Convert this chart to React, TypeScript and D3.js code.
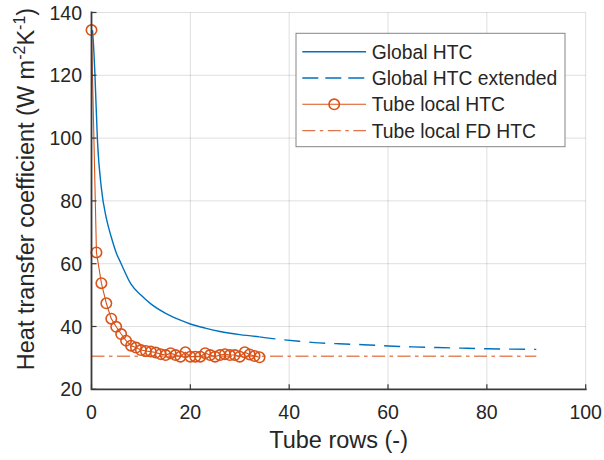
import React from "react";
import * as d3 from "d3";

// ---- data ----
const localRows = [0, 1, 2, 3, 4, 5, 6, 7, 8, 9, 10, 11, 12, 13, 14, 15, 16, 17, 18, 19, 20, 21, 22, 23, 24, 25, 26, 27, 28, 29, 30, 31, 32, 33, 34];
const localHTC = [134.4, 63.6, 53.8, 47.4, 42.5, 39.9, 37.6, 35.5, 33.9, 33.3, 32.5, 32.2, 32.0, 31.7, 31.2, 30.9, 31.5, 30.9, 30.4, 31.8, 30.4, 30.4, 30.4, 31.5, 30.9, 30.4, 30.9, 31.2, 30.9, 30.9, 30.4, 31.8, 31.1, 30.6, 30.2];

const globalRows = [0.2, 0.5, 0.7, 1.2, 2, 3, 4, 5, 6, 8, 10, 12, 15, 18, 20, 23, 26, 30, 34];
const globalHTC = [134.4, 127, 120, 99.4, 84, 74.5, 68.5, 63.5, 60, 53.5, 50, 47.2, 44.2, 42.0, 40.8, 39.5, 38.4, 37.4, 36.7];

const extRows = [34, 38, 42, 46, 50, 55, 60, 65, 70, 75, 80, 85, 90];
const extHTC = [36.7, 35.9, 35.3, 34.8, 34.5, 34.2, 33.8, 33.5, 33.3, 33.1, 32.9, 32.8, 32.7];

const fdRows = [0, 90];
const fdHTC = [30.5, 30.5];

const xTicks = [0, 20, 40, 60, 80, 100];
const yTicks = [20, 40, 60, 80, 100, 120, 140];
const legendLabels = ["Global HTC", "Global HTC extended", "Tube local HTC", "Tube local FD HTC"];

const BLUE = "#0072BD";
const ORANGE = "#D95319";
const AXIS = "#3a3a3a";
const TEXT = "#262626";
const FONT = "'Liberation Sans', Arial, sans-serif";

export default function App() {
  const W = 604, H = 460;
  const x = d3.scaleLinear().domain([0, 100]).range([91.5, 585.7]);
  const y = d3.scaleLinear().domain([20, 140]).range([389.3, 12.5]);

  const line = d3.line<[number, number]>().x(d => x(d[0])).y(d => y(d[1]));
  const smooth = d3.line<[number, number]>().x(d => x(d[0])).y(d => y(d[1])).curve(d3.curveMonotoneX);

  const zip = (a: number[], b: number[]) => a.map((v, i) => [v, b[i]] as [number, number]);

  const [x0, x1] = x.range();
  const [y0, y1] = y.range();

  const lgX = 296, lgY = 33.3, lgW = 269, lgH = 113.4;
  const rowY = (i: number) => 51.7 + i * 26.3;

  return (
    <div style={{ position: "fixed", left: 0, top: 0 }}>
      <svg width={W} height={H} style={{ display: "block", background: "#fff" }} fontFamily={FONT}>
        {/* grid */}
        <g stroke="#262626" strokeOpacity={0.15} strokeWidth={1}>
          {xTicks.filter(t => t > 0).map(t => (
            <line key={"gx" + t} x1={x(t)} x2={x(t)} y1={y0} y2={y1} />
          ))}
          {yTicks.filter(t => t > 20).map(t => (
            <line key={"gy" + t} x1={x0} x2={x1} y1={y(t)} y2={y(t)} />
          ))}
        </g>

        {/* FD line */}
        <path d={line(zip(fdRows, fdHTC))!} fill="none" stroke={ORANGE} strokeOpacity={0.7} strokeWidth={1.5} strokeDasharray="13,4.5,3.5,4.5" />

        {/* global extended */}
        <path d={smooth(zip(extRows, extHTC))!} fill="none" stroke={BLUE} strokeWidth={1.4} strokeDasharray="16,9" />
        {/* global */}
        <path d={smooth(zip(globalRows, globalHTC))!} fill="none" stroke={BLUE} strokeWidth={1.4} />

        {/* local */}
        <path d={line(zip(localRows, localHTC))!} fill="none" stroke={ORANGE} strokeWidth={1.1} />
        <g fill="none" stroke={ORANGE} strokeWidth={1.6}>
          {localRows.map((r, i) => (
            <circle key={i} cx={x(r)} cy={y(localHTC[i])} r={5.2} />
          ))}
        </g>

        {/* axes */}
        <g stroke={AXIS} strokeWidth={1.8} fill="none">
          <path d={`M${x0},${y1 - 0.9}V${y0}H${x1 + 0.9}`} />
        </g>
        <g stroke={AXIS} strokeWidth={1.2}>
          {xTicks.map(t => (
            <line key={"tx" + t} x1={x(t)} x2={x(t)} y1={y0} y2={y0 - 5} />
          ))}
          {yTicks.map(t => (
            <line key={"ty" + t} x1={x0} x2={x0 + 5} y1={y(t)} y2={y(t)} />
          ))}
        </g>

        {/* tick labels */}
        <g fill={TEXT} fontSize={19.5}>
          {xTicks.map(t => (
            <text key={"lx" + t} x={x(t)} y={419} textAnchor="middle">{t}</text>
          ))}
          {yTicks.map(t => (
            <text key={"ly" + t} x={82} y={y(t)} dy="0.36em" textAnchor="end">{t}</text>
          ))}
        </g>

        {/* axis labels */}
        <text x={338.6} y={448} textAnchor="middle" fontSize={23.5} fill={TEXT}>Tube rows (-)</text>
        <text transform="translate(33.5,189) rotate(-90)" textAnchor="middle" fontSize={23.5} fill={TEXT}>
          Heat transfer coefficient (W m
          <tspan dy="-8.5" fontSize={16}>-2</tspan>
          <tspan dy="8.5">K</tspan>
          <tspan dy="-8.5" fontSize={16}>-1</tspan>
          <tspan dy="8.5">)</tspan>
        </text>

        {/* legend */}
        <rect x={lgX} y={lgY} width={lgW} height={lgH} fill="#fff" stroke="#858585" strokeWidth={1} />
        <g>
          <line x1={302.3} x2={366} y1={rowY(0)} y2={rowY(0)} stroke={BLUE} strokeWidth={1.4} />
          <line x1={302.3} x2={366} y1={rowY(1)} y2={rowY(1)} stroke={BLUE} strokeWidth={1.4} strokeDasharray="16,7" />
          <line x1={302.3} x2={366} y1={rowY(2)} y2={rowY(2)} stroke={ORANGE} strokeWidth={1.1} />
          <circle cx={334.2} cy={rowY(2)} r={5.2} fill="none" stroke={ORANGE} strokeWidth={1.6} />
          <line x1={302.3} x2={366} y1={rowY(3)} y2={rowY(3)} stroke={ORANGE} strokeOpacity={0.8} strokeWidth={1.3} strokeDasharray="13,4.5,3.5,4.5" />
          {legendLabels.map((l, i) => (
            <text key={l} x={371.7} y={rowY(i)} dy="0.36em" fontSize={19.3} fill={TEXT}>{l}</text>
          ))}
        </g>
      </svg>
    </div>
  );
}
